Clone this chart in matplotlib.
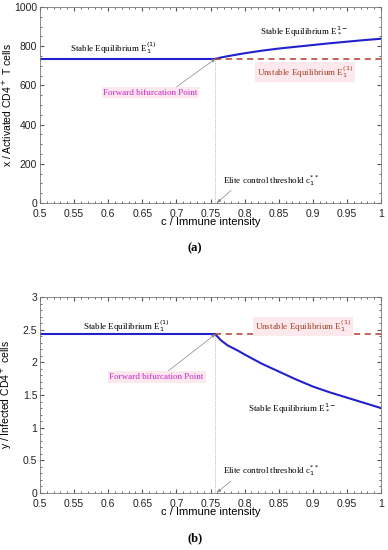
import numpy as np
import matplotlib
matplotlib.use("Agg")
import matplotlib.pyplot as plt
from matplotlib.ticker import MultipleLocator

# bifurcation point
c_star = 0.757

# x axis ticks
c_ticks = [0.5, 0.55, 0.6, 0.65, 0.7, 0.75, 0.8, 0.85, 0.9, 0.95, 1.0]
c_labels = ["0.5", "0.55", "0.6", "0.65", "0.7", "0.75", "0.8", "0.85", "0.9", "0.95", "1"]

# panel (a): activated CD4+ T cells
x_e1 = 735
c_up = [0.757, 0.765, 0.775, 0.79, 0.8, 0.825, 0.85, 0.875, 0.9, 0.925, 0.95, 0.975, 1.0]
x_up = [735, 742, 749, 758, 764, 777, 788, 797, 806, 815, 823, 831, 838]

# panel (b): infected CD4+ cells
y_e1 = 2.43
c_dn = [0.757, 0.765, 0.775, 0.79, 0.8, 0.825, 0.85, 0.875, 0.9, 0.925, 0.95, 0.975, 1.0]
y_dn = [2.43, 2.34, 2.26, 2.18, 2.12, 1.98, 1.86, 1.74, 1.63, 1.54, 1.46, 1.38, 1.30]

blue = "#2222cc"
red = "#b03a2e"
serif = "Liberation Serif"
sans = "Liberation Sans"

fig = plt.figure(figsize=(3.88, 5.5), dpi=100)
ax1 = fig.add_axes([40 / 388, 1 - 203 / 550, 341 / 388, 196 / 550])
ax2 = fig.add_axes([40 / 388, 1 - 493 / 550, 341 / 388, 196 / 550])


def style_axes(ax, yticks, ymin, ylabel):
    ax.set_xlim(0.5, 1.0)
    ax.set_ylim(yticks[0], yticks[-1])
    ax.set_xticks(c_ticks)
    ax.set_xticklabels(c_labels, family=sans)
    ax.set_yticks(yticks)
    ax.set_yticklabels([f"{v:g}" for v in yticks], family=sans)
    ax.xaxis.set_minor_locator(MultipleLocator(0.01))
    ax.yaxis.set_minor_locator(MultipleLocator(ymin))
    ax.tick_params(which="both", direction="in", top=True, right=True,
                   labelsize=7.5, colors="#555555", labelcolor="#222222")
    ax.tick_params(axis="x", pad=4)
    ax.tick_params(axis="y", pad=2)
    ax.tick_params(which="major", length=3)
    ax.tick_params(which="minor", length=1.5)
    ax.set_xlabel("c / Immune intensity", family=sans, fontsize=8, labelpad=-1)
    ax.set_ylabel(ylabel, family=sans, fontsize=7.5)
    ax.yaxis.set_label_coords(-0.075, 0.5)
    for s in ax.spines.values():
        s.set_color("#777777")
        s.set_linewidth(0.6)


# ---- panel (a)
ax1.plot([0.5, c_star], [x_e1, x_e1], color=blue, lw=1.5)
ax1.plot(c_up, x_up, color=blue, lw=1.5)
ax1.plot([c_star, 1.0], [x_e1, x_e1], color=red, lw=1.1, ls=(0, (4, 3)))
ax1.plot([c_star, c_star], [0, x_e1], color="#888888", lw=0.5, ls=":")
style_axes(ax1, [0, 200, 400, 600, 800, 1000], 50, "x / Activated CD4$^+$ T cells")

ax1.text(0.544, 792, r"Stable Equilibrium E$_1^{(1)}$", family=serif,
         fontsize=6.5, va="center")
ax1.text(0.822, 878, r"Stable Equilibrium E$_*^{1-}$", family=serif,
         fontsize=6.5, va="center")
ax1.text(0.818, 668, r"Unstable Equilibrium E$_1^{(1)}$", family=serif,
         fontsize=6.5, va="center", color="#a04020",
         bbox=dict(boxstyle="square,pad=0.2", fc="#fde8ee", ec="none"))
ax1.annotate("Forward bifurcation Point", xy=(c_star, x_e1), xytext=(0.662, 563),
             family=serif, fontsize=6.5, color="#cc22cc", ha="center", va="center",
             bbox=dict(boxstyle="square,pad=0.2", fc="#fde8ee", ec="none"),
             arrowprops=dict(arrowstyle="-|>", color="#888888", lw=0.5,
                             mutation_scale=5, shrinkA=0, shrinkB=0,
                             relpos=(0.75, 1.0)))
ax1.annotate(r"Elite control threshold c$_1^{**}$", xy=(0.76, 2), xytext=(0.768, 117),
             family=serif, fontsize=6.5, ha="left", va="center",
             arrowprops=dict(arrowstyle="-|>", color="#888888", lw=0.5,
                             mutation_scale=5, shrinkA=0, shrinkB=0,
                             relpos=(0.12, 0.0)))

# ---- panel (b)
ax2.plot([0.5, c_star], [y_e1, y_e1], color=blue, lw=1.5)
ax2.plot(c_dn, y_dn, color=blue, lw=1.5)
ax2.plot([c_star, 1.0], [y_e1, y_e1], color=red, lw=1.1, ls=(0, (4, 3)))
ax2.plot([c_star, c_star], [0, y_e1], color="#888888", lw=0.5, ls=":")
style_axes(ax2, [0, 0.5, 1, 1.5, 2, 2.5, 3], 0.1, "y / Infected CD4$^+$ cells")

ax2.text(0.563, 2.55, r"Stable Equilibrium E$_1^{(1)}$", family=serif,
         fontsize=6.5, va="center")
ax2.text(0.815, 2.55, r"Unstable Equilibrium E$_1^{(1)}$", family=serif,
         fontsize=6.5, va="center", color="#a04020",
         bbox=dict(boxstyle="square,pad=0.2", fc="#fde8ee", ec="none"))
ax2.text(0.805, 1.3, r"Stable Equilibrium E$_*^{1-}$", family=serif,
         fontsize=6.5, va="center")
ax2.annotate("Forward bifurcation Point", xy=(c_star, y_e1), xytext=(0.671, 1.78),
             family=serif, fontsize=6.5, color="#cc22cc", ha="center", va="center",
             bbox=dict(boxstyle="square,pad=0.2", fc="#fde8ee", ec="none"),
             arrowprops=dict(arrowstyle="-|>", color="#888888", lw=0.5,
                             mutation_scale=5, shrinkA=0, shrinkB=0,
                             relpos=(0.6, 1.0)))
ax2.annotate(r"Elite control threshold c$_1^{**}$", xy=(0.76, 0.01), xytext=(0.768, 0.34),
             family=serif, fontsize=6.5, ha="left", va="center",
             arrowprops=dict(arrowstyle="-|>", color="#888888", lw=0.5,
                             mutation_scale=5, shrinkA=0, shrinkB=0,
                             relpos=(0.12, 0.0)))

fig.text(195 / 388, 1 - 248 / 550, "(a)", family=serif, fontweight="bold",
         fontsize=9, ha="center", va="center")
fig.text(195 / 388, 1 - 538 / 550, "(b)", family=serif, fontweight="bold",
         fontsize=9, ha="center", va="center")

fig.savefig("out.png", dpi=100)
